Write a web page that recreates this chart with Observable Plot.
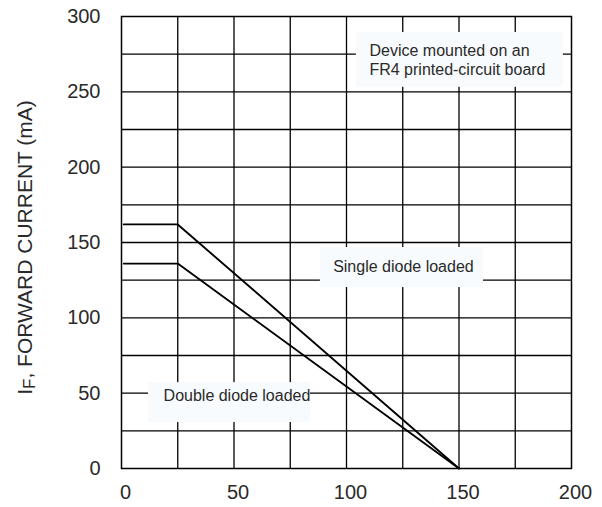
<!DOCTYPE html>
<html>
<head>
<meta charset="utf-8">
<script src="https://cdn.jsdelivr.net/npm/d3@7"></script>
<script src="https://cdn.jsdelivr.net/npm/@observablehq/plot@0.6"></script>
<style>
  html, body { margin: 0; padding: 0; background: #fff; }
  #chart { width: 602px; height: 507px; }
</style>
</head>
<body>
<div id="chart"></div>
<script>
// Data
const temperature = [1, 25, 150];
const singleCurrent = [162, 162, 0];
const doubleCurrent = [136, 136, 0];
const xTickLabels = [0, 50, 100, 150, 200];
const yTickLabels = [0, 50, 100, 150, 200, 250, 300];
const xGrid = [25, 50, 75, 100, 125, 150, 175];
const yGrid = [25, 50, 75, 100, 125, 150, 175, 200, 225, 250, 275];
const annotations = [
  "Device mounted on an",
  "FR4 printed-circuit board",
  "Single diode loaded",
  "Double diode loaded"
];

const curves = [
  ...temperature.map((t, i) => ({series: "single", t, i: singleCurrent[i]})),
  ...temperature.map((t, i) => ({series: "double", t, i: doubleCurrent[i]}))
];

const boxFill = "#f8fbfd";
const textColor = "#2a2a2a";

const plot = Plot.plot({
  width: 602,
  height: 507,
  marginLeft: 121,
  marginRight: 31,
  marginTop: 16,
  marginBottom: 39,
  style: {fontFamily: "'Liberation Sans', Arial, sans-serif", fontSize: "20px", color: textColor, background: "#fff"},
  x: {domain: [0, 200]},
  y: {domain: [0, 300]},
  marks: [
    Plot.gridX(xGrid, {stroke: "black", strokeOpacity: 1, strokeWidth: 1.3}),
    Plot.gridY(yGrid, {stroke: "black", strokeOpacity: 1, strokeWidth: 1.3}),
    Plot.frame({stroke: "black", strokeWidth: 1.5}),
    // label backgrounds (data coordinates)
    Plot.rect([0], {x1: 104.4, x2: 196.4, y1: 253, y2: 289.4, fill: boxFill}),
    Plot.rect([0], {x1: 88.4, x2: 160.9, y1: 120.1, y2: 146.7, fill: boxFill}),
    Plot.rect([0], {x1: 12, x2: 84, y1: 30.5, y2: 57, fill: boxFill}),
    Plot.axisX(xTickLabels, {tickSize: 0, tickPadding: 16, dx: 4, label: null, fontSize: 20, fill: textColor}),
    Plot.axisY(yTickLabels, {tickSize: 0, tickPadding: 21, label: null, fontSize: 20, fill: textColor}),
    Plot.line(curves, {x: "t", y: "i", z: "series", stroke: "black", strokeWidth: 1.9}),
    Plot.text([annotations[0]], {x: 110.2, y: 277.4, text: d => d, textAnchor: "start", fontSize: 16, fill: textColor}),
    Plot.text([annotations[1]], {x: 110.2, y: 264.8, text: d => d, textAnchor: "start", fontSize: 16, fill: textColor}),
    Plot.text([annotations[2]], {x: 125.3, y: 134, text: d => d, textAnchor: "middle", fontSize: 16, fill: textColor}),
    Plot.text([annotations[3]], {x: 18.7, y: 48.5, text: d => d, textAnchor: "start", fontSize: 16, fill: textColor})
  ]
});

document.getElementById("chart").appendChild(plot);

// Y-axis title with subscript
const svg = d3.select(plot);
const title = svg.append("text")
  .attr("transform", "translate(32,247.5) rotate(-90)")
  .attr("text-anchor", "middle")
  .attr("fill", textColor)
  .style("font-size", "21px")
  .style("font-family", "'Liberation Sans', Arial, sans-serif");
title.append("tspan").text("I");
title.append("tspan").attr("font-size", "17px").attr("dy", "3").text("F");
title.append("tspan").attr("dy", "-3").text(", FORWARD CURRENT (mA)");
</script>
</body>
</html>
